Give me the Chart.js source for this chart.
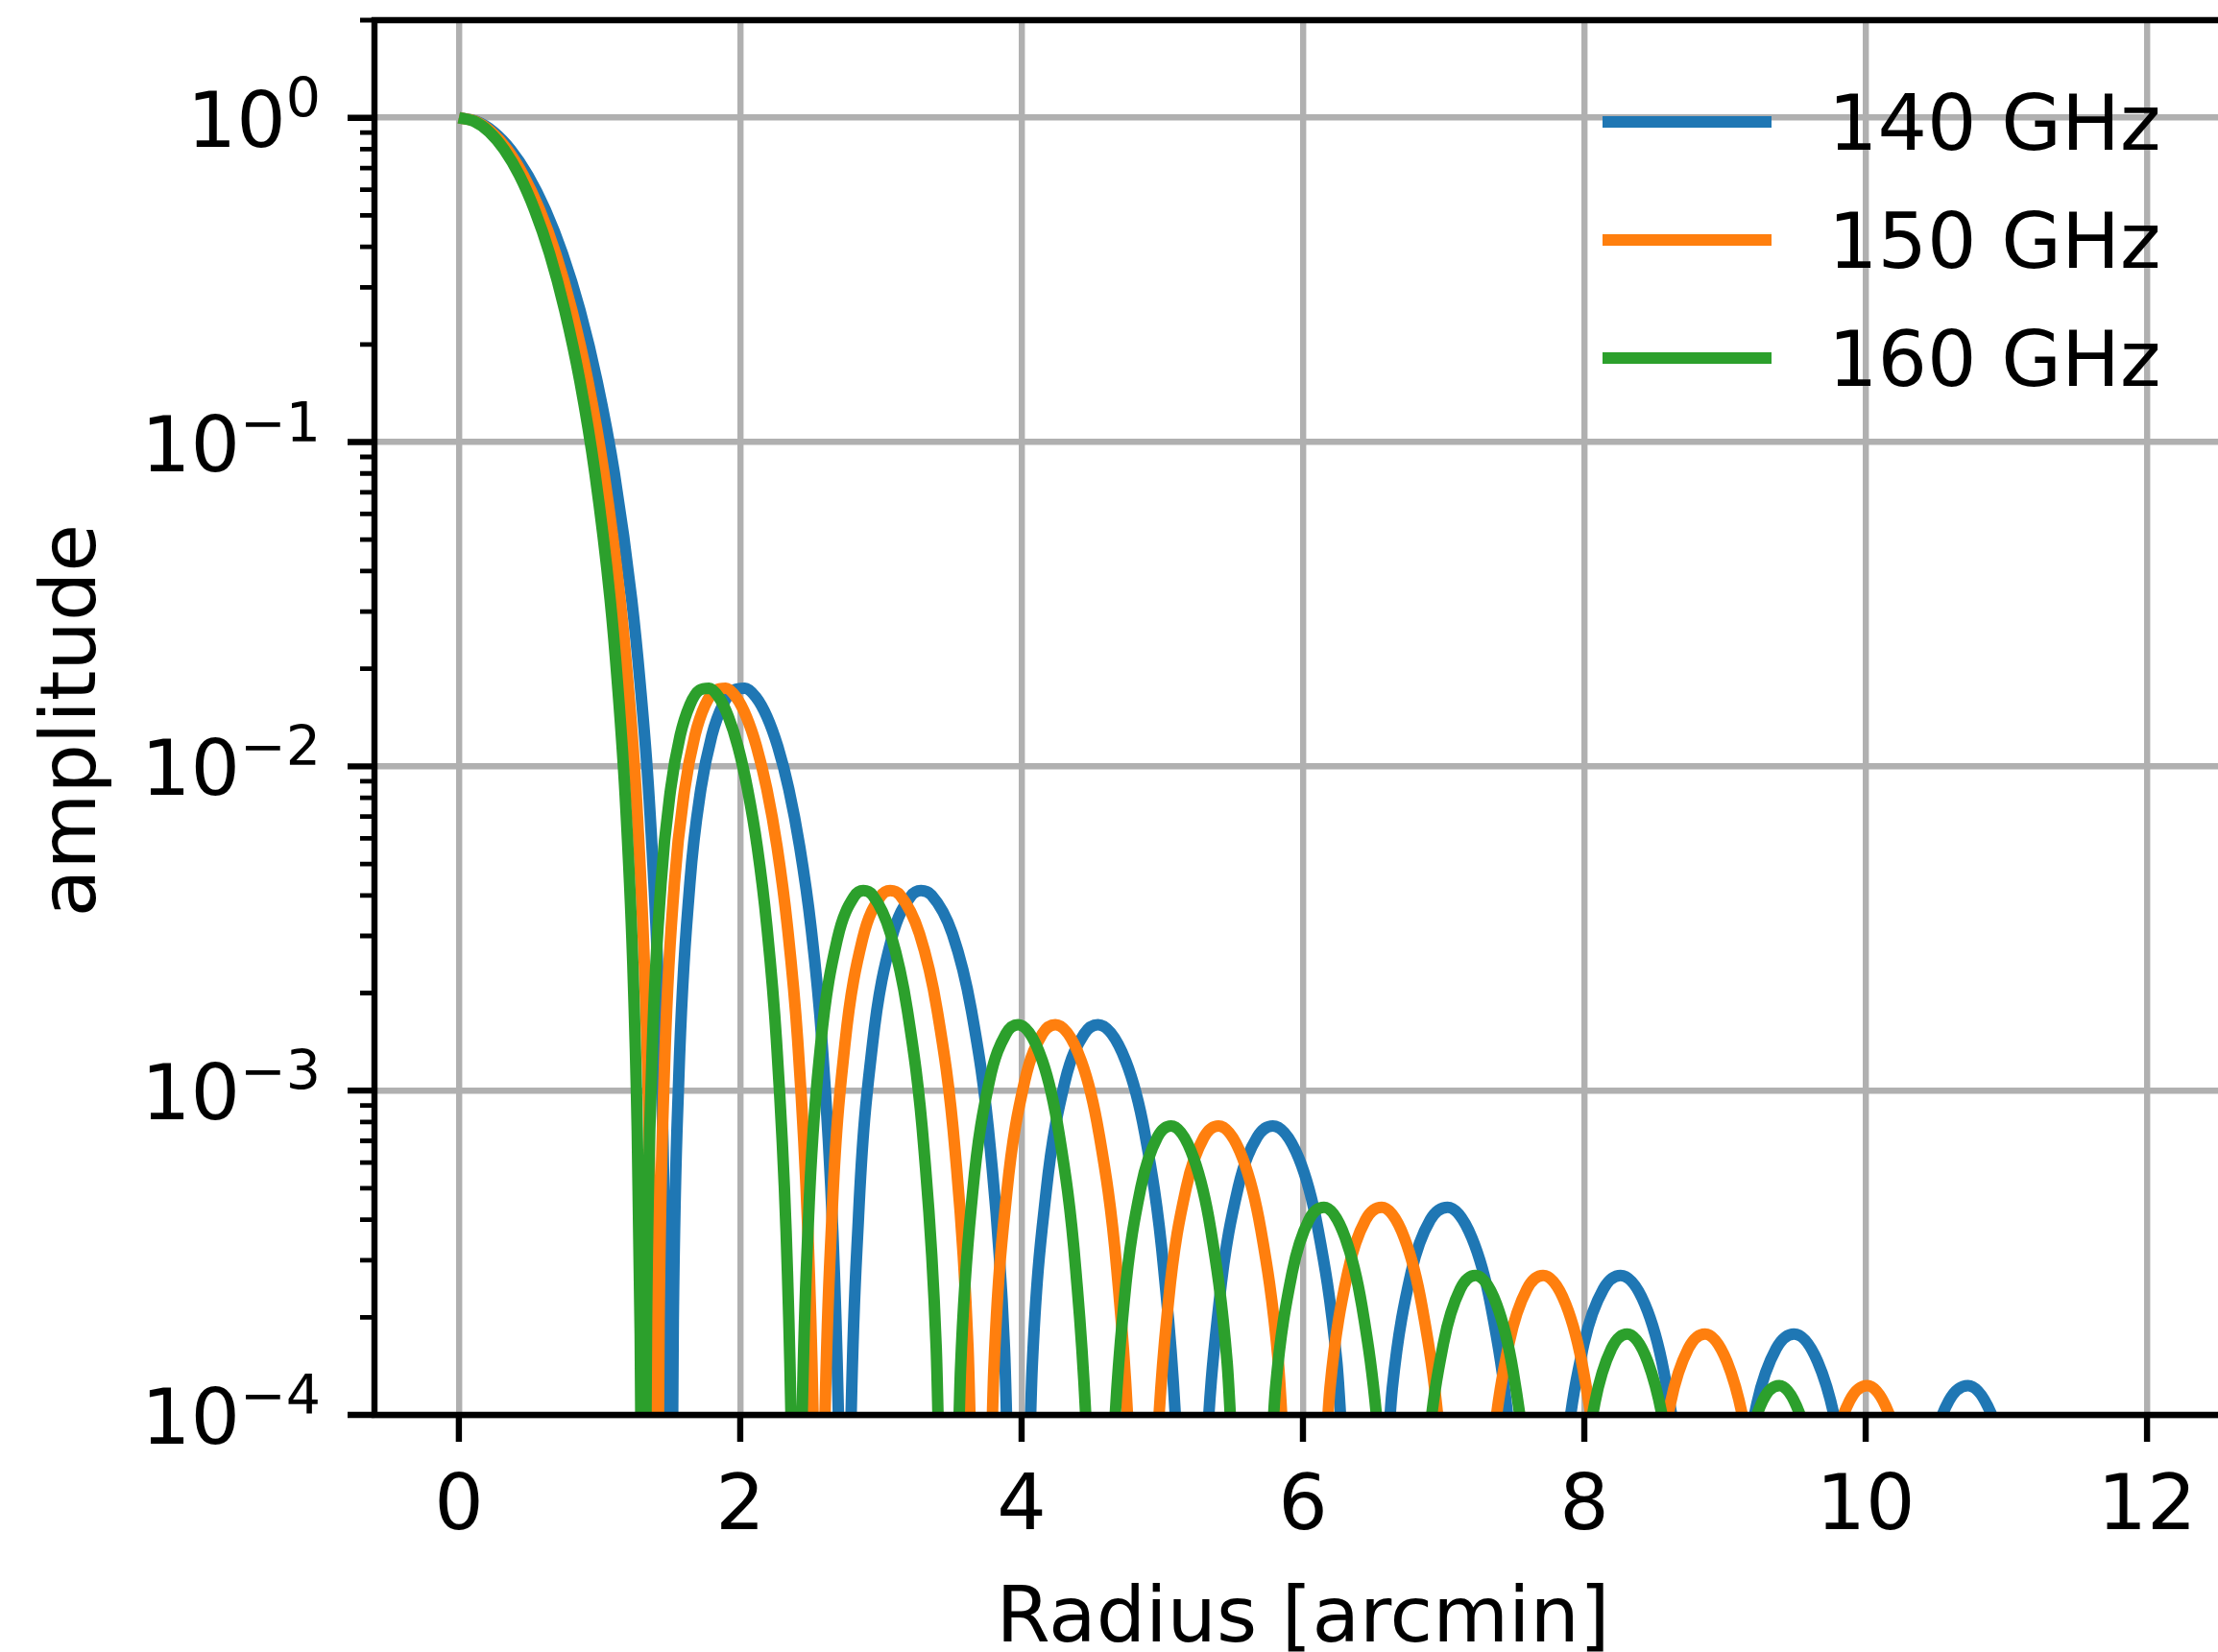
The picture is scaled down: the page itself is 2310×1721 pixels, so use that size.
<!DOCTYPE html>
<html><head><meta charset="utf-8">
<script src="https://cdn.jsdelivr.net/npm/chart.js@4.4.0/dist/chart.umd.min.js"></script>
<style>
html,body{margin:0;padding:0;background:#fff;overflow:hidden;width:2310px;height:1721px;}
#wrap{width:2340px;height:1721px;}
canvas{display:block;}
</style></head>
<body><div id="wrap"><canvas id="c" width="2340" height="1721"></canvas></div>
<script>
// ---------------- data ----------------
const seriesLabels = ['140 GHz', '150 GHz', '160 GHz'];
const seriesColors = ['#1f77b4', '#ff7f0e', '#2ca02c'];

// amplitude shared by the three curves (same lobe heights), index-aligned with the radius arrays
const amplitude = [
  1, 0.9756, 0.9053, 0.7975, 0.6645, 0.5209, 0.3807, 0.2557, 0.1543, 0.0802, 0.0328, 0.0179, 0.00814, 0.00249, 7.54e-4, 1.77e-4, 4.19e-5,
  1.48e-5, 1.95e-4, 1.089e-3, 4.356e-3, 8.497e-3, 1.245e-2, 1.547e-2, 1.717e-2, 1.742e-2, 1.636e-2, 1.425e-2, 1.150e-2, 8.507e-3, 5.645e-3, 3.221e-3, 1.435e-3, 3.68e-4, 1.04e-4, 3.3e-5,
  7.2e-6, 6.27e-5, 4.10e-4, 1.389e-3, 2.942e-3, 3.970e-3, 4.138e-3, 4.011e-3, 3.046e-3, 1.770e-3, 6.54e-4, 1.613e-4, 2.20e-5,
  2.08e-5, 1.390e-4, 4.855e-4, 1.070e-3, 1.497e-3, 1.597e-3, 1.235e-3, 7.384e-4, 2.805e-4, 7.05e-5, 9.7e-6,
  9.3e-6, 6.30e-5, 2.236e-4, 5.033e-4, 7.192e-4, 7.781e-4, 6.177e-4, 3.759e-4, 1.452e-4, 3.69e-5,
  3.37e-5, 1.209e-4, 2.758e-4, 3.993e-4, 4.363e-4, 3.522e-4, 2.168e-4, 8.47e-5, 2.17e-5,
  2.01e-5, 7.26e-5, 1.672e-4, 2.443e-4, 2.690e-4, 2.195e-4, 1.362e-4, 5.36e-5, 1.38e-5,
  1.29e-5, 4.69e-5, 1.089e-4, 1.602e-4, 1.777e-4, 1.459e-4, 9.11e-5, 3.61e-5,
  3.21e-5, 7.48e-5, 1.106e-4, 1.231e-4, 1.019e-4, 6.39e-5, 2.54e-5
];

const radius140 = [
  0, 0.123, 0.246, 0.368, 0.491, 0.614, 0.737, 0.860, 0.982, 1.105, 1.228, 1.289, 1.351, 1.412, 1.449, 1.474, 1.486,
  1.505, 1.524, 1.563, 1.642, 1.720, 1.798, 1.876, 1.954, 2.033, 2.111, 2.189, 2.267, 2.345, 2.423, 2.502, 2.580, 2.658, 2.697, 2.717,
  2.755, 2.779, 2.841, 2.940, 3.076, 3.211, 3.285, 3.359, 3.508, 3.643, 3.779, 3.878, 3.940,
  4.014, 4.075, 4.174, 4.309, 4.445, 4.543, 4.740, 4.876, 5.011, 5.110, 5.171,
  5.245, 5.306, 5.405, 5.540, 5.675, 5.786, 5.971, 6.106, 6.241, 6.340,
  6.536, 6.635, 6.770, 6.905, 7.028, 7.200, 7.336, 7.471, 7.569,
  7.766, 7.864, 7.999, 8.135, 8.258, 8.430, 8.565, 8.700, 8.800,
  8.995, 9.093, 9.228, 9.364, 9.491, 9.659, 9.794, 9.929,
  10.322, 10.457, 10.592, 10.727, 10.887, 11.022, 11.157
];

const radius150 = [
  0, 0.115, 0.229, 0.344, 0.458, 0.573, 0.688, 0.802, 0.917, 1.031, 1.146, 1.203, 1.261, 1.318, 1.352, 1.375, 1.387,
  1.405, 1.423, 1.459, 1.532, 1.605, 1.678, 1.751, 1.824, 1.897, 1.970, 2.043, 2.116, 2.189, 2.262, 2.335, 2.408, 2.481, 2.517, 2.535,
  2.571, 2.594, 2.652, 2.744, 2.870, 2.997, 3.066, 3.135, 3.274, 3.400, 3.527, 3.619, 3.677,
  3.746, 3.803, 3.895, 4.022, 4.148, 4.240, 4.424, 4.550, 4.677, 4.769, 4.826,
  4.895, 4.953, 5.044, 5.171, 5.297, 5.400, 5.572, 5.699, 5.825, 5.917,
  6.101, 6.192, 6.319, 6.445, 6.560, 6.720, 6.846, 6.973, 7.064,
  7.248, 7.340, 7.466, 7.592, 7.707, 7.868, 7.994, 8.120, 8.213,
  8.395, 8.487, 8.613, 8.739, 8.858, 9.014, 9.141, 9.267,
  9.634, 9.760, 9.886, 10.012, 10.161, 10.287, 10.413
];

const radius160 = [
  0, 0.107, 0.215, 0.322, 0.430, 0.537, 0.645, 0.752, 0.860, 0.967, 1.075, 1.128, 1.182, 1.236, 1.268, 1.289, 1.300,
  1.317, 1.334, 1.368, 1.437, 1.505, 1.573, 1.642, 1.710, 1.779, 1.847, 1.915, 1.984, 2.052, 2.121, 2.189, 2.257, 2.326, 2.360, 2.377,
  2.410, 2.432, 2.486, 2.572, 2.691, 2.810, 2.875, 2.940, 3.069, 3.188, 3.307, 3.393, 3.447,
  3.512, 3.566, 3.652, 3.771, 3.889, 3.975, 4.148, 4.266, 4.385, 4.471, 4.525,
  4.589, 4.643, 4.729, 4.848, 4.966, 5.063, 5.224, 5.343, 5.461, 5.547,
  5.719, 5.805, 5.924, 6.042, 6.150, 6.300, 6.419, 6.537, 6.623,
  6.795, 6.881, 7.000, 7.118, 7.225, 7.376, 7.494, 7.612, 7.700,
  7.871, 7.957, 8.075, 8.193, 8.305, 8.451, 8.569, 8.688,
  9.032, 9.150, 9.268, 9.386, 9.526, 9.644, 9.763
];

const xTickValues = [0, 2, 4, 6, 8, 10, 12];
const xTickLabels = ['0', '2', '4', '6', '8', '10', '12'];
const yMajorTicks = [1e-4, 1e-3, 1e-2, 1e-1, 1];
const yTickExponents = ['\u22124', '\u22123', '\u22122', '\u22121', '0'];
const yMinorTicks = [
  2e-4, 3e-4, 4e-4, 5e-4, 6e-4, 7e-4, 8e-4, 9e-4,
  2e-3, 3e-3, 4e-3, 5e-3, 6e-3, 7e-3, 8e-3, 9e-3,
  2e-2, 3e-2, 4e-2, 5e-2, 6e-2, 7e-2, 8e-2, 9e-2,
  0.2, 0.3, 0.4, 0.5, 0.6, 0.7, 0.8, 0.9,
  2
];
const xRange = [-0.6, 12.6];
const yRange = [1e-4, 2];
const xTitle = 'Radius [arcmin]';
const yTitle = 'amplitude';

// ---------------- drawing ----------------
const radii = [radius140, radius150, radius160];
const FAM = '"DejaVu Sans", "Liberation Sans", sans-serif';
const mainFont = '81px ' + FAM;
const supFont = '57px ' + FAM;

const mplDecor = {
  id: 'mplDecor',
  afterDatasetsDraw(chart) {
    const ctx = chart.ctx, a = chart.chartArea;
    const xs = chart.scales.x, ys = chart.scales.y;
    ctx.save();
    ctx.strokeStyle = '#000';
    ctx.lineCap = 'butt';
    ctx.lineWidth = 6.4;
    ctx.beginPath();
    xTickValues.forEach(v => { const p = xs.getPixelForValue(v); ctx.moveTo(p, a.bottom); ctx.lineTo(p, a.bottom + 28); });
    yMajorTicks.forEach(v => { const p = ys.getPixelForValue(v); ctx.moveTo(a.left, p); ctx.lineTo(a.left - 28, p); });
    ctx.stroke();
    ctx.lineWidth = 4.8;
    ctx.beginPath();
    yMinorTicks.forEach(v => { const p = ys.getPixelForValue(v); ctx.moveTo(a.left, p); ctx.lineTo(a.left - 15, p); });
    ctx.stroke();
    ctx.lineWidth = 6.4;
    ctx.lineCap = 'square';
    ctx.beginPath();
    ctx.moveTo(a.left, a.top); ctx.lineTo(a.left, a.bottom);
    ctx.moveTo(a.left, a.bottom); ctx.lineTo(a.right, a.bottom);
    ctx.moveTo(a.left, a.top); ctx.lineTo(a.right, a.top);
    ctx.moveTo(a.right, a.top); ctx.lineTo(a.right, a.bottom);
    ctx.stroke();

    ctx.fillStyle = '#000';
    ctx.textBaseline = 'alphabetic';
    ctx.font = mainFont;
    ctx.textAlign = 'center';
    xTickValues.forEach((v, i) => ctx.fillText(xTickLabels[i], xs.getPixelForValue(v), a.bottom + 119));
    ctx.textAlign = 'left';
    yMajorTicks.forEach((v, i) => {
      const p = ys.getPixelForValue(v);
      ctx.font = mainFont; const w1 = ctx.measureText('10').width;
      ctx.font = supFont; const w2 = ctx.measureText(yTickExponents[i]).width;
      const x0 = a.left - 56 - (w1 + w2);
      ctx.font = mainFont; ctx.fillText('10', x0, p + 30);
      ctx.font = supFont; ctx.fillText(yTickExponents[i], x0 + w1, p - 1);
    });

    ctx.font = mainFont;
    ctx.textAlign = 'center';
    ctx.fillText(xTitle, (a.left + a.right) / 2, 1710);
    ctx.save();
    ctx.translate(99, (a.top + a.bottom) / 2 + 3);
    ctx.rotate(-Math.PI / 2);
    ctx.fillText(yTitle, 0, 0);
    ctx.restore();

    // legend (no frame), entries in dataset order
    chart.data.datasets.forEach((ds, i) => {
      const cy = 127 + i * 123;
      ctx.strokeStyle = ds.borderColor;
      ctx.lineWidth = 12;
      ctx.lineCap = 'butt';
      ctx.beginPath(); ctx.moveTo(1669, cy); ctx.lineTo(1845, cy); ctx.stroke();
      ctx.fillStyle = '#000';
      ctx.textAlign = 'left';
      ctx.font = mainFont;
      ctx.fillText(ds.label, 1904, cy + 29);
    });
    ctx.restore();
  }
};

new Chart(document.getElementById('c'), {
  type: 'line',
  data: {
    datasets: seriesLabels.map((label, s) => ({
      label,
      data: radii[s].map((r, i) => ({ x: r, y: amplitude[i] })),
      order: seriesLabels.length - s,
      borderColor: seriesColors[s],
      backgroundColor: seriesColors[s],
      borderWidth: 12,
      pointRadius: 0,
      pointHoverRadius: 0,
      fill: false,
      cubicInterpolationMode: 'monotone',
      capBezierPoints: false,
      borderJoinStyle: 'round',
      borderCapStyle: 'butt',
      clip: 0
    }))
  },
  options: {
    responsive: false,
    animation: false,
    devicePixelRatio: 1,
    events: [],
    elements: { line: { capBezierPoints: false } },
    layout: { padding: { top: 21, right: 16, left: 0, bottom: 0 } },
    plugins: { legend: { display: false }, tooltip: { enabled: false } },
    scales: {
      x: {
        type: 'linear', bounds: 'data', min: xRange[0], max: xRange[1],
        afterBuildTicks: s => { s.ticks = xTickValues.map(v => ({ value: v })); },
        afterFit: s => { s.height = 247; },
        ticks: { display: false },
        grid: { color: '#b0b0b0', lineWidth: 6.4, drawTicks: false },
        border: { display: false }
      },
      y: {
        type: 'logarithmic', bounds: 'data', min: yRange[0], max: yRange[1],
        afterBuildTicks: s => {
          s.ticks = yMajorTicks.map(v => ({ value: v, major: true }))
            .concat(yMinorTicks.map(v => ({ value: v, major: false })))
            .sort((p, q) => p.value - q.value);
        },
        afterFit: s => { s.width = 390; },
        ticks: { display: false },
        grid: {
          color: c => (c.tick && c.tick.major) ? '#b0b0b0' : 'rgba(0,0,0,0)',
          lineWidth: 6.4, drawTicks: false
        },
        border: { display: false }
      }
    }
  },
  plugins: [mplDecor]
});
</script>
</body></html>
